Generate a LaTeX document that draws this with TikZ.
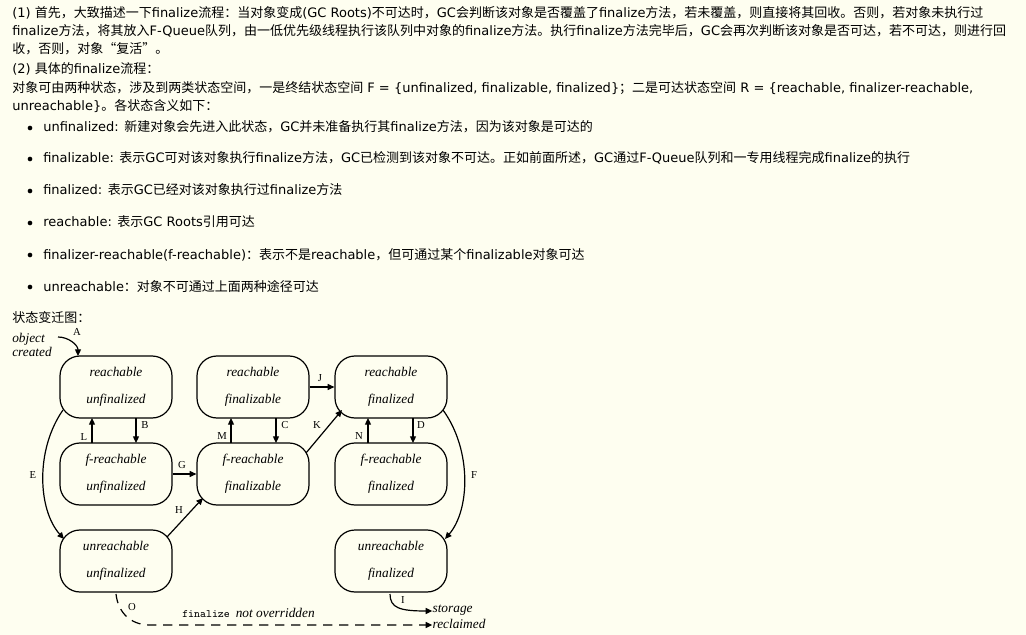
\documentclass[tikz,border=0pt]{standalone}
\usepackage{fontspec}
\setmainfont{DejaVu Sans}
\newfontfamily\cjk{Noto Sans CJK SC}
\newfontfamily\srf{Liberation Serif}
\newcommand\zh[1]{{\cjk #1}}
\usetikzlibrary{arrows.meta}
\begin{document}
\begin{tikzpicture}[x=0.75pt,y=-0.75pt,
  txt/.style={anchor=base west,inner sep=0pt,font=\fontsize{9.75pt}{11pt}\selectfont},
  st/.style={draw,line width=0.9pt,rounded corners=15pt,minimum width=84pt,minimum height=46.5pt,inner sep=0pt,align=center,font=\srf\itshape\fontsize{10pt}{20pt}\selectfont},
  lab/.style={font=\srf\fontsize{8pt}{8pt}\selectfont,inner sep=0pt},
  arr/.style={line width=0.9pt,-{Triangle[length=5pt,width=4.5pt]}},
  bul/.style={circle,fill,inner sep=0pt,minimum size=3.5pt}]
\fill[fill={rgb,255:red,254;green,254;blue,240}] (0,0) rectangle (1026,635);
\useasboundingbox (0,0) rectangle (1026,635);
\node[txt] (t1) at (12,18) {(1) \zh{首先，大致描述一下}finalize\zh{流程：当对象变成}(GC Roots)\zh{不可达时，}GC\zh{会判断该对象是否覆盖了}finalize\zh{方法，若未覆盖，则直接将其回收。否则，若对象未执行过}};
\node[txt] (t2) at (12,36) {finalize\zh{方法，将其放入}F-Queue\zh{队列，由一低优先级线程执行该队列中对象的}finalize\zh{方法。执行}finalize\zh{方法完毕后，}GC\zh{会再次判断该对象是否可达，若不可达，则进行回}};
\node[txt] (t3) at (12,54) {\zh{收，否则，对象“复活”。}};
\node[txt] (t4) at (12,74) {(2) \zh{具体的}finalize\zh{流程：}};
\node[txt] (t5) at (12,93) {\zh{对象可由两种状态，涉及到两类状态空间，一是终结状态空间} F = \{unfinalized, finalizable, finalized\}\zh{；二是可达状态空间} R = \{reachable, finalizer-reachable,};
\node[txt] (t6) at (12,111) {unreachable\}\zh{。各状态含义如下：}};
\foreach \yy/\tx [count=\i] in {132/{unfinalized: \zh{新建对象会先进入此状态，}GC\zh{并未准备执行其}finalize\zh{方法，因为该对象是可达的}},
 163/{finalizable: \zh{表示}GC\zh{可对该对象执行}finalize\zh{方法，}GC\zh{已检测到该对象不可达。正如前面所述，}GC\zh{通过}F-Queue\zh{队列和一专用线程完成}finalize\zh{的执行}},
 195/{finalized: \zh{表示}GC\zh{已经对该对象执行过}finalize\zh{方法}},
 227/{reachable: \zh{表示}GC Roots\zh{引用可达}},
 259/{finalizer-reachable(f-reachable)\zh{：表示不是}reachable\zh{，但可通过某个}finalizable\zh{对象可达}},
 291/{unreachable\zh{：对象不可通过上面两种途径可达}}}{
  \node[bul] (b\i) at (30,\yy-4) {};
  \node[txt] (l\i) at (43,\yy) {\tx};
}
\node[txt] (t7) at (12,322) {\zh{状态变迁图：}};
% states
\node[st] (ru) at (116,387) {reachable\\unfinalized};
\node[st] (rz) at (253,387) {reachable\\finalizable};
\node[st] (rd) at (391,387) {reachable\\finalized};
\node[st] (fu) at (116,474) {f-reachable\\unfinalized};
\node[st] (fz) at (253,474) {f-reachable\\finalizable};
\node[st] (fd) at (391,474) {f-reachable\\finalized};
\node[st] (uu) at (116,561) {unreachable\\unfinalized};
\node[st] (ud) at (391,561) {unreachable\\finalized};
\node[align=left,inner sep=0pt,font=\srf\itshape\fontsize{10pt}{11pt}\selectfont] (oc) at (32,345) {object\\created};
\node[align=left,inner sep=0pt,font=\srf\itshape\fontsize{10pt}{12pt}\selectfont] (sr) at (459,617) {storage\\reclaimed};
\coordinate (p1) at (58,337);
\draw[arr] (p1) to[out=0,in=90] (78,356);
\node[lab] (A) at (77,332) {A};
\draw[arr] (92,443) -- (92,418); \node[lab] at (84,437) {L};
\draw[arr] (136,418) -- (136,443); \node[lab] at (145,425) {B};
\draw[arr] (231,443) -- (231,418); \node[lab] at (222,436) {M};
\draw[arr] (276,418) -- (276,443); \node[lab] at (285,425) {C};
\draw[arr] (368,443) -- (368,418); \node[lab] at (359,436) {N};
\draw[arr] (413,418) -- (413,443); \node[lab] at (421,425) {D};
\draw[arr] (fu.east) -- (fz.west); \node[lab] at (182,465) {G};
\draw[arr] (rz.east) -- (rd.west); \node[lab] at (320,378) {J};
\draw[arr] (167,537) -- (203,498); \node[lab] at (179,510) {H};
\draw[arr] (306,453) -- (342,410); \node[lab] at (317,425) {K};
\draw[arr] (63,410) .. controls (35,450) and (38,510) .. (64,539); \node[lab] at (33,475) {E};
\draw[arr] (443,410) .. controls (472,450) and (470,510) .. (445,539); \node[lab] at (474,475) {F};
\draw[arr] (390,594) .. controls (390,608) and (400,611) .. (sr.west |- 0,611); \node[lab] at (403,600) {I};
\draw[line width=0.9pt,dashed,dash pattern=on 7pt off 5pt,-{Triangle[length=5pt,width=4.5pt]}] (116,594) .. controls (118,612) and (130,625) .. (150,625) -- (sr.west |- 0,625);
\node[lab] at (132,607) {O};
\node[inner sep=0pt,anchor=base west] (nt) at (182,617) {\ttfamily\fontsize{8.5pt}{9pt}\selectfont finalize \srf\itshape\fontsize{10pt}{9pt}\selectfont not overridden};
\end{tikzpicture}
\end{document}
